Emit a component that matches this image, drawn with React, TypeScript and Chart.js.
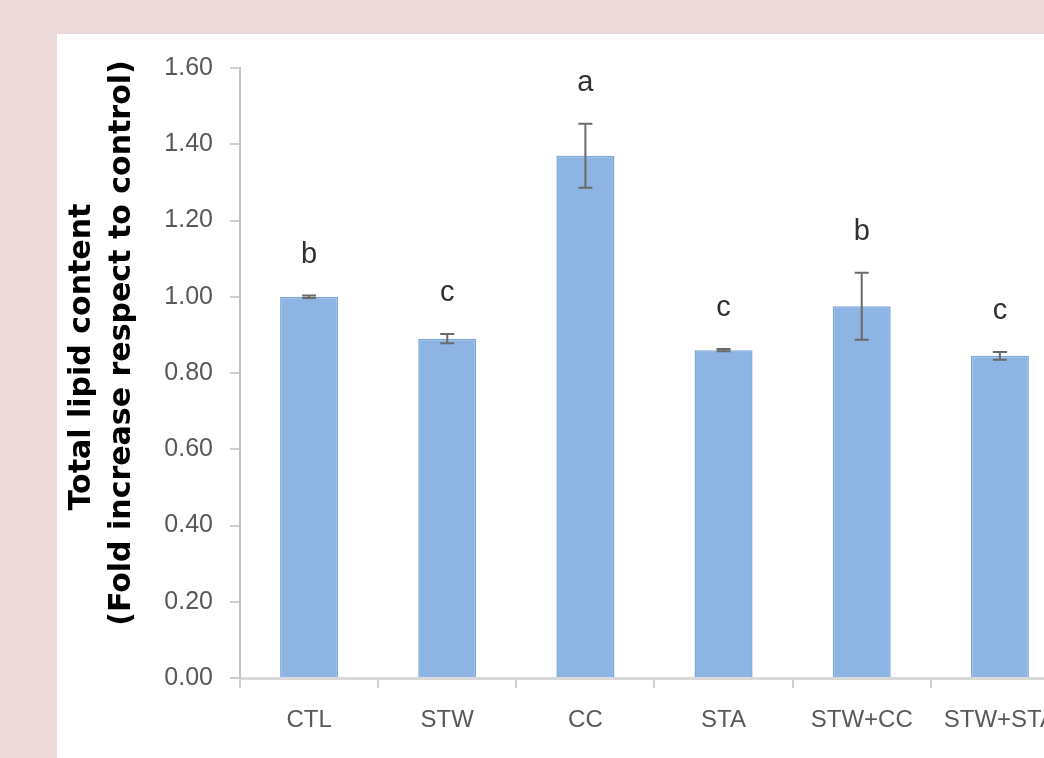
import { useEffect, useRef } from "react";
import { Chart, registerables } from "chart.js";

Chart.register(...registerables);

const categories = ["CTL", "STW", "CC", "STA", "STW+CC", "STW+STA"];
const lipidValues = [1.0, 0.89, 1.37, 0.86, 0.975, 0.845];
const lipidErrors = [0.003, 0.012, 0.084, 0.003, 0.088, 0.01];
const significance = ["b", "c", "a", "c", "b", "c"];
const yMin = 0;
const yMax = 1.6;
const yStep = 0.2;
const yTitleLines = ["Total lipid content", "(Fold increase respect to control)"];

const TICK_FONT = "'Liberation Sans Narrow', 'Liberation Sans', Arial, sans-serif";
const TITLE_FONT = "'DejaVu Sans', Verdana, sans-serif";

const errorBarPlugin = {
  id: "errorBars",
  afterDatasetsDraw(chart: any) {
    const { ctx } = chart;
    const yScale = chart.scales.y;
    const meta = chart.getDatasetMeta(0);
    ctx.save();
    meta.data.forEach((bar: any, i: number) => {
      const v = lipidValues[i];
      const e = lipidErrors[i];
      const x = bar.x;
      const top = yScale.getPixelForValue(v + e);
      const bot = yScale.getPixelForValue(v - e);
      ctx.strokeStyle = "#6a6a6a";
      ctx.lineWidth = 2;
      ctx.beginPath();
      ctx.moveTo(x, top);
      ctx.lineTo(x, bot);
      ctx.moveTo(x - 7, top);
      ctx.lineTo(x + 7, top);
      ctx.moveTo(x - 7, bot);
      ctx.lineTo(x + 7, bot);
      ctx.stroke();
      ctx.fillStyle = "#303030";
      ctx.font = `29px ${TICK_FONT}`;
      ctx.textAlign = "center";
      ctx.textBaseline = "alphabetic";
      ctx.fillText(significance[i], x, top - 33);
    });
    ctx.restore();
  },
};

const yTitlePlugin = {
  id: "yTitle",
  afterDraw(chart: any) {
    const { ctx, chartArea } = chart;
    ctx.save();
    ctx.fillStyle = "#000000";
    ctx.font = `bold 30px ${TITLE_FONT}`;
    ctx.textAlign = "center";
    ctx.textBaseline = "middle";
    const mid = (chartArea.top + chartArea.bottom) / 2;
    const placements = [
      { x: 25, dy: -16 },
      { x: 65, dy: -30 },
    ];
    yTitleLines.forEach((line, i) => {
      ctx.save();
      ctx.translate(placements[i].x, mid + placements[i].dy);
      ctx.rotate(-Math.PI / 2);
      ctx.fillText(line, 0, 0);
      ctx.restore();
    });
    ctx.restore();
  },
};

export default function App() {
  const canvasRef = useRef<HTMLCanvasElement | null>(null);

  useEffect(() => {
    if (!canvasRef.current) return;
    const chart = new Chart(canvasRef.current, {
      type: "bar",
      data: {
        labels: categories,
        datasets: [
          {
            data: lipidValues,
            backgroundColor: "#8EB4E3",
            borderColor: "#7CA7DB",
            borderWidth: 1.5,
            barPercentage: 0.42,
            categoryPercentage: 1,
          },
        ],
      },
      options: {
        responsive: false,
        maintainAspectRatio: false,
        animation: false,
        layout: { padding: { top: 34, left: 0, right: 0, bottom: 0 } },
        plugins: {
          legend: { display: false },
          tooltip: { enabled: false },
          title: { display: false },
        },
        scales: {
          x: {
            grid: {
              display: true,
              offset: true,
              drawOnChartArea: false,
              drawTicks: true,
              tickLength: 10,
              color: "#cfcfcf",
              lineWidth: 2,
            },
            border: { display: true, color: "#d9d9d9", width: 3 },
            ticks: {
              color: "#595959",
              font: { family: TICK_FONT, size: 24 },
              padding: 18,
              maxRotation: 0,
              autoSkip: false,
            },
            afterFit: (s: any) => {
              s.height = 80;
            },
          },
          y: {
            min: yMin,
            max: yMax,
            ticks: {
              stepSize: yStep,
              callback: (v: any) => Number(v).toFixed(2),
              color: "#595959",
              font: { family: TICK_FONT, size: 25 },
              padding: 17,
            },
            grid: {
              display: true,
              drawOnChartArea: false,
              drawTicks: true,
              tickLength: 10,
              color: "#cfcfcf",
              lineWidth: 2,
            },
            border: { display: true, color: "#c4c4c4", width: 2 },
            afterFit: (s: any) => {
              s.width = 183;
            },
          },
        },
      },
      plugins: [errorBarPlugin, yTitlePlugin],
    });
    return () => chart.destroy();
  }, []);

  return (
    <div
      style={{
        position: "fixed",
        left: 0,
        top: 0,
        width: 1044,
        height: 758,
        overflow: "hidden",
        background: "#ECDADB",
      }}
    >
      <div
        style={{
          position: "absolute",
          left: 57,
          top: 34,
          width: 1017,
          height: 724,
          background: "#ffffff",
        }}
      >
        <canvas ref={canvasRef} width={1017} height={724} style={{ width: 1017, height: 724, display: "block" }} />
      </div>
    </div>
  );
}
